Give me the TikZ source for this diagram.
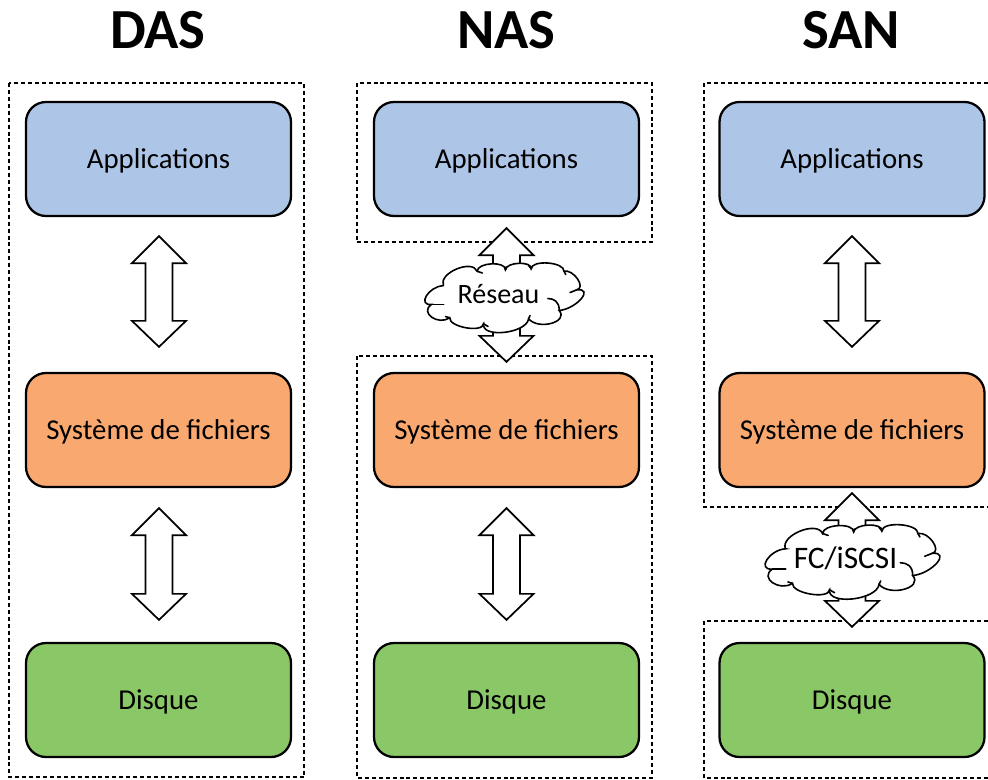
\documentclass[tikz,border=0pt]{standalone}
\usepackage{fontspec}
\setmainfont{Carlito}
\usetikzlibrary{calc}
\definecolor{appblue}{HTML}{ADC5E7}
\definecolor{fsorange}{HTML}{F9A870}
\definecolor{diskgreen}{HTML}{8AC766}
\tikzset{
  layerbox/.style={draw=black,line width=1.7pt,rounded corners=15pt,minimum width=198.75pt,minimum height=85.5pt,inner sep=0pt,font=\fontsize{21.6pt}{25pt}\selectfont,text=black,text depth=0pt},
  frameline/.style={draw=black,line width=1.4pt,dash pattern=on 3pt off 2.2pt},
  blockarrow/.style={draw=black,fill=white,line width=1.3pt,line join=miter},
  cloudline/.style={draw=black,line width=1.2pt,line cap=round},
  title/.style={font=\fontsize{42.5pt}{48pt}\selectfont\bfseries,inner sep=0pt},
  cloudtext/.style={font=\fontsize{21pt}{25pt}\selectfont,inner sep=0pt},
  pics/netcloud/.style={code={
    \path[cloudline,fill=white]
      (-62.3,-10) .. controls (-77.4,-9.1) and (-89.8,9.9) .. (-74.7,9)
      .. controls (-87.1,17) and (-68.1,30.3) .. (-55.7,22.3)
      .. controls (-56.6,31.6) and (-21.6,37.6) .. (-20.7,28.3)
      .. controls (-22.9,43) and (23.8,38) .. (26,23.3)
      .. controls (36.2,34.9) and (67.9,26.6) .. (57.7,15)
      .. controls (75.9,13.2) and (94.2,-7.5) .. (76,-5.7)
      .. controls (85.8,-7.9) and (72.5,-26.5) .. (62.7,-24.3)
      .. controls (63.1,-33.6) and (29.1,-36) .. (28.7,-26.7)
      .. controls (29.6,-34.7) and (2.9,-33.7) .. (2,-25.7)
      .. controls (2.4,-34.6) and (-26.9,-33.2) .. (-27.3,-24.3)
      .. controls (-32.6,-36.7) and (-67.6,-22.4) .. cycle;
    \draw[cloudline] (-74.7,9) .. controls (-70,9) .. (-62,9);
    \draw[cloudline] (-55.7,22.3) -- (-60,21);
    \draw[cloudline] (-20.7,28.3) -- (-16,31);
    \draw[cloudline] (26,23.3) -- (27.5,20);
    \draw[cloudline] (57.7,15) .. controls (58,6) and (52,3) .. (46,3);
    \draw[cloudline] (76,-5.7) -- (69,-3);
    \draw[cloudline] (62.7,-24.3) -- (64.5,-21);
    \draw[cloudline] (28.7,-26.7) -- (26,-30);
    \draw[cloudline] (2,-25.7) -- (2.5,-28.5);
    \draw[cloudline] (-27.3,-24.3) -- (-22,-22.5);
  }}
}
\newcommand{\dblarrow}[2]{%
  \draw[blockarrow] (#1) -- ++(27,27) -- ++(-13.5,0) -- ($(#2)+(13.5,-26)$) -- ++(13.5,0)
    -- (#2) -- ++(-27,-26) -- ++(13.5,0) -- ($(#1)+(-13.5,27)$) -- ++(-13.5,0) -- cycle;}
\begin{document}
\begin{tikzpicture}[x=0.75pt,y=-0.75pt]
\useasboundingbox (0,0) rectangle (988,779);
% titles
\node[title] (tDas) at (158,30) {DAS};
\node[title] (tNas) at (506.5,30) {NAS};
\node[title] (tSan) at (851,30) {SAN};
% frames
\draw[frameline] (9,83) rectangle (304,777);
\draw[frameline] (357,83) rectangle (652,242);
\draw[frameline] (357,356) rectangle (652,778);
\draw[frameline] (995,83) -- (704,83) -- (704,507) -- (995,507);
\draw[frameline] (995,621) -- (704,621) -- (704,778) -- (995,778);
% layers
\foreach \c/\x in {d/158.5,n/506.5,s/852}{
  \node[layerbox,fill=appblue] (\c App) at (\x,159) {\raisebox{0.6pt}{Applications}};
  \node[layerbox,fill=fsorange] (\c Fs) at (\x,430) {\raisebox{0.6pt}{Système de fichiers}};
  \node[layerbox,fill=diskgreen] (\c Disk) at (\x,700) {\raisebox{0.6pt}{Disque}};
}
% arrow ends
\coordinate (d1a) at ($(dApp.south)+(0.5,19)$);
\coordinate (d1b) at ($(dFs.north)+(0.5,-25)$);
\coordinate (d2a) at ($(dFs.south)+(0.5,20)$);
\coordinate (d2b) at ($(dDisk.north)+(0.5,-22)$);
\coordinate (n1a) at ($(nApp.south)+(0,11)$);
\coordinate (n1b) at ($(nFs.north)+(0,-10)$);
\coordinate (n2a) at ($(nFs.south)+(0,20)$);
\coordinate (n2b) at ($(nDisk.north)+(0,-22)$);
\coordinate (s1a) at ($(sApp.south)+(0,19)$);
\coordinate (s1b) at ($(sFs.north)+(0,-25)$);
\coordinate (s2a) at ($(sFs.south)+(0,5)$);
\coordinate (s2b) at ($(sDisk.north)+(0,-15)$);
\dblarrow{d1a}{d1b}
\dblarrow{d2a}{d2b}
\dblarrow{n1a}{n1b}
\dblarrow{n2a}{n2b}
\dblarrow{s1a}{s1b}
\dblarrow{s2a}{s2b}
% clouds
\begin{scope}[shift={(503.5,295.5)},xscale=0.965]
\pic[transform shape] at (0,0) {netcloud};
\end{scope}
\node[cloudtext] (reseau) at (498.5,294.5) {Réseau};
\begin{scope}[shift={(851.5,559.5)},xscale=1.06,yscale=1.07]
\pic[transform shape] at (0,0) {netcloud};
\end{scope}
\node[cloudtext,font=\fontsize{23.5pt}{27pt}\selectfont] (fc) at (845.5,558.5) {FC/iSCSI};
\end{tikzpicture}
\end{document}
